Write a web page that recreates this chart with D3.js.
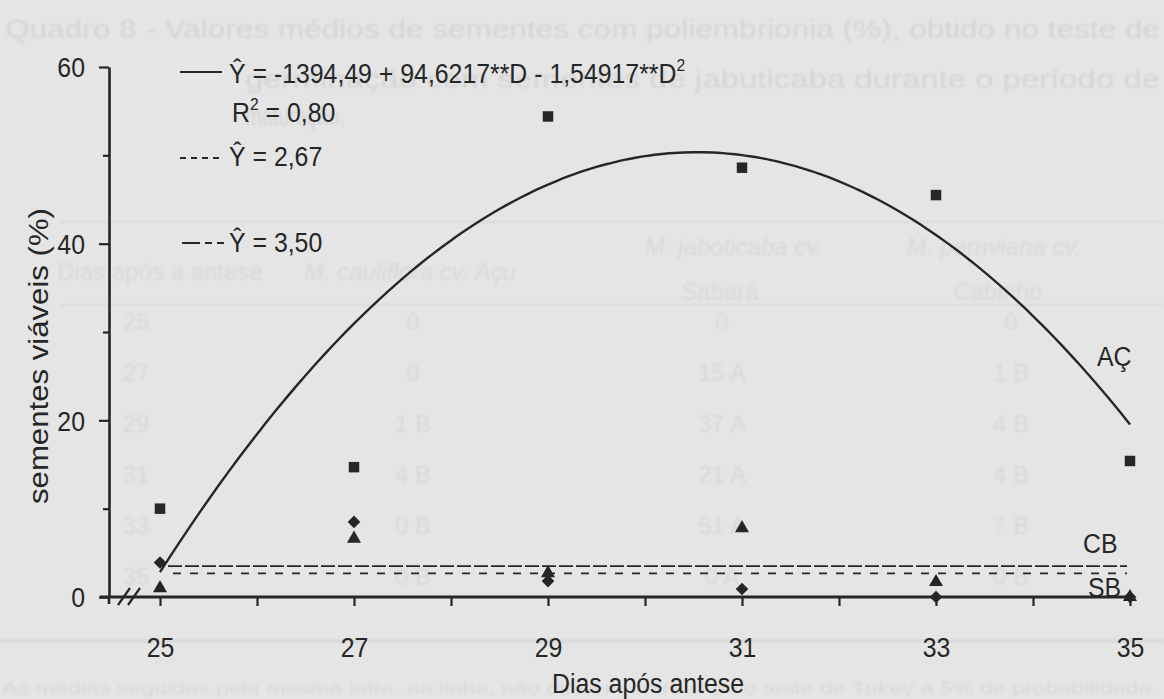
<!DOCTYPE html>
<html>
<head>
<meta charset="utf-8">
<script src="https://cdn.jsdelivr.net/npm/d3@7"></script>
<style>
  html, body { margin: 0; padding: 0; background: #e5e5e5; }
  svg { display: block; }
  text { font-family: "Liberation Sans", Arial, Helvetica, sans-serif; }
</style>
</head>
<body>
<svg id="chart" width="1164" height="699"></svg>
<script>
// ---- data -------------------------------------------------------------
const days = [25, 27, 29, 31, 33, 35];
const seriesAC = [10.0, 14.7, 54.4, 48.6, 45.5, 15.4];  // squares  (AÇ)
const seriesCB = [1.0, 6.6, 2.7, 7.8, 1.7, 0.0];        // triangles (CB)
const seriesSB = [3.9, 8.5, 1.8, 0.9, 0.0, 0.0];        // diamonds  (SB)
const coefAC = [-1394.49, 94.6217, -1.54917];           // Ŷ = b0 + b1·D + b2·D²
const meanCB = 3.50;
const meanSB = 2.67;

const yTicksMajor = [0, 20, 40, 60];
const yTicksMinor = [10, 30, 50];
const xTicks = [25, 26, 27, 28, 29, 30, 31, 32, 33, 34, 35];
const xTickLabels = ["25", "27", "29", "31", "33", "35"];

// faint print on the page behind the figure
const pageTitle = [
  "Quadro 8 - Valores médios de sementes com poliembrionia (%), obtido no teste de",
  "germinação com sementes de jabuticaba durante o período de",
  "maturação."
];
const pageRows = [
  ["25", "0", "0", "0"],
  ["27", "0", "15 A", "1 B"],
  ["29", "1 B", "37 A", "4 B"],
  ["31", "4 B", "21 A", "4 B"],
  ["33", "0 B", "51 A", "7 B"],
  ["35", "0 B", "0 A", "0 B"]
];
const pageNote = "As médias seguidas pela mesma letra, na linha, não diferem entre si pelo teste de Tukey a 5% de probabilidade.";

// ---- setup ------------------------------------------------------------
const ink = "#262626";
const svg = d3.select("#chart");
const W = 1164, H = 699;

svg.append("rect").attr("width", W).attr("height", H).attr("fill", "#e5e5e5");

const defs = svg.append("defs");
defs.append("filter").attr("id", "soft")
  .attr("x", "-5%").attr("y", "-20%").attr("width", "110%").attr("height", "140%")
  .append("feGaussianBlur").attr("stdDeviation", 1.3);

const x = d3.scaleLinear().domain([25, 35]).range([160, 1130]);
const y = d3.scaleLinear().domain([0, 60]).range([597, 67]);
const axisX = 109;

function squeeze(sel, k) {
  sel.each(function () {
    const w = this.getComputedTextLength();
    this.setAttribute("textLength", w * k);
    this.setAttribute("lengthAdjust", "spacingAndGlyphs");
  });
}

// ---- background print -------------------------------------------------
const ghost = svg.append("g").attr("filter", "url(#soft)").attr("fill", "#d8d8d8");
const titleSpec = [
  { x: 5, y: 38, w: 1155 },
  { x: 245, y: 88, w: 915 },
  { x: 245, y: 125, w: 100 }
];
pageTitle.forEach((t, i) => {
  ghost.append("text")
    .attr("x", titleSpec[i].x).attr("y", titleSpec[i].y)
    .attr("font-size", 26).attr("fill", "#d4d4d4")
    .attr("textLength", titleSpec[i].w).attr("lengthAdjust", "spacingAndGlyphs")
    .text(t);
});
ghost.append("line").attr("x1", 60).attr("x2", W).attr("y1", 222).attr("y2", 222)
  .attr("stroke", "#dadada").attr("stroke-width", 2);
ghost.append("line").attr("x1", 60).attr("x2", W).attr("y1", 305).attr("y2", 305)
  .attr("stroke", "#dadada").attr("stroke-width", 2);
ghost.append("line").attr("x1", 0).attr("x2", W).attr("y1", 641).attr("y2", 641)
  .attr("stroke", "#d8d8d8").attr("stroke-width", 3);

const hdr = [
  { t: "Dias após a antese", x: 160, y: 280, it: false },
  { t: "M. cauliflora  cv. Açu", x: 410, y: 280, it: true },
  { t: "M. jaboticaba cv.", x: 734, y: 255, it: true },
  { t: "Sabará", x: 720, y: 300, it: false },
  { t: "M. peruviana cv.", x: 994, y: 255, it: true },
  { t: "Cabinho", x: 998, y: 300, it: false }
];
hdr.forEach(h => {
  ghost.append("text").attr("x", h.x).attr("y", h.y)
    .attr("text-anchor", "middle").attr("font-size", 24)
    .attr("font-style", h.it ? "italic" : "normal")
    .text(h.t);
});
const colX = [136, 413, 722, 1011];
pageRows.forEach((row, r) => {
  row.forEach((cell, c) => {
    ghost.append("text").attr("x", colX[c]).attr("y", 330 + r * 51)
      .attr("text-anchor", "middle").attr("font-size", 24)
      .text(cell);
  });
});
ghost.append("text").attr("x", 2).attr("y", 694).attr("font-size", 17)
  .attr("textLength", 1156).attr("lengthAdjust", "spacingAndGlyphs")
  .text(pageNote);

// ---- axes -------------------------------------------------------------
const gY = svg.append("g").attr("transform", `translate(${axisX},0)`);
gY.call(d3.axisLeft(y).tickValues(yTicksMajor).tickSize(10).tickSizeOuter(0).tickPadding(14).tickFormat(d3.format("d")));
gY.append("g").call(d3.axisLeft(y).tickValues(yTicksMinor).tickSize(6).tickSizeOuter(0).tickFormat(""))
  .select(".domain").remove();
gY.selectAll("line").attr("stroke", ink).attr("stroke-width", 2.2);
gY.select(".domain").attr("stroke", ink).attr("stroke-width", 2.6);
gY.selectAll("text").attr("fill", ink).attr("font-size", 27)
  .attr("font-family", "'Liberation Sans', Arial, sans-serif").attr("dy", "0.36em");
// lower end of the vertical axis runs a little past the baseline
gY.append("line").attr("x1", 0).attr("x2", 0).attr("y1", y(0)).attr("y2", y(0) + 7)
  .attr("stroke", ink).attr("stroke-width", 2.6);

const gX = svg.append("g").attr("transform", `translate(0,${y(0)})`);
gX.call(d3.axisBottom(x).tickValues(xTicks).tickSize(9).tickSizeOuter(0)
  .tickFormat(d => xTickLabels.includes(String(d)) ? String(d) : ""));
gX.select(".domain").remove();
gX.selectAll("line").attr("stroke", ink).attr("stroke-width", 2.2);
gX.selectAll("text").attr("fill", ink).attr("font-size", 27)
  .attr("font-family", "'Liberation Sans', Arial, sans-serif")
  .attr("y", 60).attr("dy", 0);
gX.append("line").attr("x1", axisX - 9).attr("x2", x(35)).attr("y1", 0).attr("y2", 0)
  .attr("stroke", ink).attr("stroke-width", 3.2);
// axis break
[0, 10].forEach(dx => {
  gX.append("line")
    .attr("x1", 118 + dx).attr("y1", 8).attr("x2", 130 + dx).attr("y2", -9)
    .attr("stroke", ink).attr("stroke-width", 2.2);
});

// axis titles
svg.append("text").attr("x", 648).attr("y", 693).attr("text-anchor", "middle")
  .attr("font-size", 27).attr("fill", ink).attr("class", "sq").text("Dias após antese");
svg.append("text")
  .attr("transform", "translate(48,356) rotate(-90)")
  .attr("text-anchor", "middle").attr("font-size", 27).attr("fill", ink)
  .attr("textLength", 296).attr("lengthAdjust", "spacingAndGlyphs")
  .text("sementes viáveis (%)");

// ---- fitted lines -----------------------------------------------------
const quad = D => coefAC[0] + coefAC[1] * D + coefAC[2] * D * D;
const curvePts = d3.range(250, 351).map(i => i / 10).map(D => [D, quad(D)]);
svg.append("path").datum(curvePts)
  .attr("d", d3.line().x(d => x(d[0])).y(d => y(d[1])).curve(d3.curveMonotoneX))
  .attr("fill", "none").attr("stroke", ink).attr("stroke-width", 2.4);

svg.append("line").attr("x1", x(25) + 8).attr("x2", x(35) - 3)
  .attr("y1", y(meanCB)).attr("y2", y(meanCB))
  .attr("stroke", ink).attr("stroke-width", 1.8).attr("stroke-dasharray", "14,3");
svg.append("line").attr("x1", x(25) + 13).attr("x2", x(35) - 3)
  .attr("y1", y(meanSB)).attr("y2", y(meanSB))
  .attr("stroke", ink).attr("stroke-width", 1.8).attr("stroke-dasharray", "8,9");

// ---- points -----------------------------------------------------------
const sqSym = d3.symbol().type(d3.symbolSquare).size(110);
const diaSym = d3.symbol().type(d3.symbolSquare).size(80);
const triSym = d3.symbol().type(d3.symbolTriangle).size(85);

svg.append("g").selectAll("path").data(days.map((d, i) => [d, seriesAC[i]])).join("path")
  .attr("d", sqSym).attr("fill", ink)
  .attr("transform", d => `translate(${x(d[0])},${y(d[1])})`);
svg.append("g").selectAll("path").data(days.map((d, i) => [d, seriesSB[i]])).join("path")
  .attr("d", diaSym).attr("fill", ink)
  .attr("transform", d => `translate(${x(d[0])},${y(d[1])}) rotate(45)`);
svg.append("g").selectAll("path").data(days.map((d, i) => [d, seriesCB[i]])).join("path")
  .attr("d", triSym).attr("fill", ink)
  .attr("transform", d => `translate(${x(d[0])},${y(d[1])})`);

// ---- series labels ----------------------------------------------------
svg.append("text").attr("x", 1097).attr("y", 366).attr("font-size", 27).attr("fill", ink).attr("class", "sq").text("AÇ");
svg.append("text").attr("x", 1083).attr("y", 553).attr("font-size", 27).attr("fill", ink).attr("class", "sq").text("CB");
svg.append("text").attr("x", 1088).attr("y", 597).attr("font-size", 27).attr("fill", ink).attr("class", "sq").text("SB");

// ---- equations --------------------------------------------------------
const leg = svg.append("g");
leg.append("line").attr("x1", 180).attr("x2", 222).attr("y1", 72).attr("y2", 72)
  .attr("stroke", ink).attr("stroke-width", 2);
const t1 = leg.append("text").attr("x", 229).attr("y", 83).attr("font-size", 27).attr("fill", ink).attr("class", "sq");
t1.append("tspan").text("Ŷ = -1394,49 + 94,6217**D - 1,54917**D");
t1.append("tspan").attr("font-size", 17).attr("dy", -12).text("2");

const t2 = leg.append("text").attr("x", 232).attr("y", 122).attr("font-size", 27).attr("fill", ink).attr("class", "sq");
t2.append("tspan").text("R");
t2.append("tspan").attr("font-size", 17).attr("dy", -12).text("2");
t2.append("tspan").attr("dy", 12).text(" = 0,80");

leg.append("line").attr("x1", 180).attr("x2", 224).attr("y1", 158).attr("y2", 158)
  .attr("stroke", ink).attr("stroke-width", 1.8).attr("stroke-dasharray", "6,5");
leg.append("text").attr("x", 229).attr("y", 166).attr("font-size", 27).attr("fill", ink).attr("class", "sq")
  .text("Ŷ = 2,67");

leg.append("line").attr("x1", 182).attr("x2", 225).attr("y1", 243).attr("y2", 243)
  .attr("stroke", ink).attr("stroke-width", 1.8).attr("stroke-dasharray", "18,5,7,5,7,5");
leg.append("text").attr("x", 229).attr("y", 252).attr("font-size", 27).attr("fill", ink).attr("class", "sq")
  .text("Ŷ = 3,50");

// slightly condensed lettering
squeeze(svg.selectAll("text.sq"), 0.92);
squeeze(gX.selectAll(".tick text"), 0.92);
squeeze(gY.selectAll(".tick text"), 0.92);
</script>
</body>
</html>
